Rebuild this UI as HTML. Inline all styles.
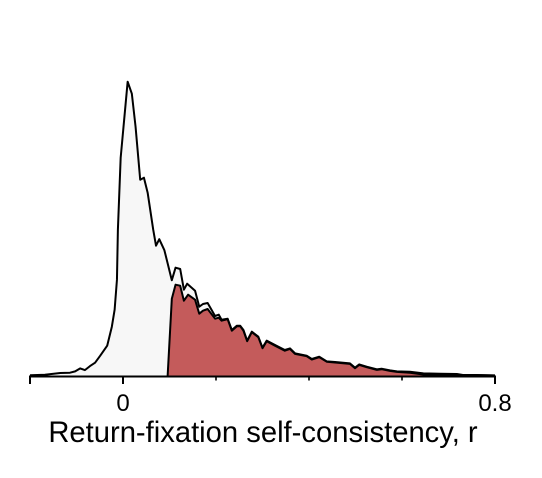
<!DOCTYPE html>
<html>
<head>
<meta charset="utf-8">
<style>
html,body{margin:0;padding:0;background:#fff;width:542px;height:478px;overflow:hidden}
svg{display:block;font-family:"Liberation Sans",Arial,sans-serif}
</style>
</head>
<body>
<svg id="chart" width="542" height="478" viewBox="0 0 542 478" xmlns="http://www.w3.org/2000/svg"></svg>
<script>
const allR = [-0.2,-0.168,-0.135,-0.114,-0.103,-0.092,-0.082,-0.071,-0.06,-0.049,-0.034,-0.024,-0.018,-0.013,-0.011,-0.005,0.010,0.019,0.027,0.037,0.045,0.053,0.065,0.071,0.078,0.089,0.097,0.105,0.113,0.123,0.131,0.138,0.155,0.164,0.172,0.182,0.198,0.206,0.212,0.225,0.234,0.245,0.252,0.259,0.267,0.277,0.291,0.300,0.309,0.327,0.348,0.359,0.370,0.395,0.406,0.422,0.438,0.456,0.488,0.499,0.508,0.524,0.546,0.556,0.574,0.589,0.617,0.646,0.682,0.718,0.731,0.761,0.8];
const allDensity = [0.005,0.01,0.027,0.03,0.043,0.073,0.056,0.096,0.13,0.20,0.30,0.49,0.66,0.96,1.46,2.18,2.94,2.82,2.49,1.96,1.98,1.83,1.46,1.30,1.365,1.255,1.105,0.955,1.08,1.067,0.86,0.92,0.85,0.69,0.717,0.727,0.597,0.61,0.56,0.57,0.457,0.50,0.50,0.457,0.35,0.44,0.39,0.28,0.35,0.307,0.257,0.273,0.223,0.20,0.167,0.19,0.143,0.137,0.123,0.08,0.113,0.09,0.063,0.07,0.053,0.043,0.04,0.023,0.02,0.017,0.007,0.007,0.003];
const selfR = [0.096,0.105,0.113,0.123,0.131,0.14,0.155,0.164,0.172,0.182,0.198,0.206,0.212,0.225,0.234,0.245,0.252,0.259,0.267,0.277,0.291,0.300,0.309,0.327,0.348,0.359,0.370,0.395,0.406,0.422,0.438,0.456,0.488,0.499,0.508,0.524,0.546,0.556,0.574,0.589,0.617,0.646,0.682,0.718,0.731,0.761,0.8];
const selfDensity = [0,0.77,0.91,0.90,0.75,0.81,0.76,0.62,0.65,0.667,0.57,0.58,0.55,0.565,0.45,0.495,0.495,0.45,0.345,0.435,0.385,0.275,0.345,0.30,0.25,0.268,0.218,0.195,0.162,0.185,0.14,0.132,0.118,0.075,0.108,0.085,0.058,0.065,0.048,0.038,0.03,0.012,0.01,0.008,0.004,0.004,0.002];
const majorTicks = [-0.2,0,0.8];
const minorTicks = [0.2,0.4,0.6];
const tickLabels = {"0":"0","0.8":"0.8"};
const xAxisTitle = "Return-fixation self-consistency, r";

const NS = "http://www.w3.org/2000/svg";
const svg = document.getElementById("chart");
const baseY = 375.7;
function xScale(r){ return 123 + r * 465; }
function yScale(d){ return baseY - d * 100; }
function make(tag, attrs, text){
  const el = document.createElementNS(NS, tag);
  for (const k in attrs) el.setAttribute(k, attrs[k]);
  if (text !== undefined) el.textContent = text;
  svg.appendChild(el);
  return el;
}
function linePath(rs, ds){
  return rs.map((r,i)=>(i?"L":"M")+xScale(r).toFixed(2)+" "+yScale(ds[i]).toFixed(2)).join(" ");
}
function areaPath(rs, ds){
  return linePath(rs, ds)+" L"+xScale(rs[rs.length-1]).toFixed(2)+" "+baseY+" L"+xScale(rs[0]).toFixed(2)+" "+baseY+" Z";
}

const allFill = make("path",{d:areaPath(allR,allDensity),fill:"#f7f7f7",stroke:"none"});


const allLine = make("path",{d:linePath(allR,allDensity),fill:"none",stroke:"#000","stroke-width":2,"stroke-linejoin":"round"});


const selfFill = make("path",{d:areaPath(selfR,selfDensity),fill:"#c45b5b",stroke:"none"});


const selfLine = make("path",{d:linePath(selfR,selfDensity),fill:"none",stroke:"#000","stroke-width":2,"stroke-linejoin":"round"});



const axisLine = make("line",{x1:xScale(-0.2)-1,x2:xScale(0.8)+1,y1:376.5,y2:376.5,stroke:"#000","stroke-width":2});



majorTicks.forEach(function(t){
  const tick = make("line",{x1:xScale(t),x2:xScale(t),y1:376,y2:384,stroke:"#000","stroke-width":2});
  
  
  const label = tickLabels[String(t)];
  if (label !== undefined){
    const txt = make("text",{x:xScale(t),y:411,"text-anchor":"middle","font-size":"24px",fill:"#000"},label);
    
    
  }
});
minorTicks.forEach(function(t){
  const tick = make("line",{x1:xScale(t),x2:xScale(t),y1:376,y2:380.5,stroke:"#000","stroke-width":1.6});
  
  
});
const title = make("text",{x:263,y:442,"text-anchor":"middle","font-size":"29.2px",fill:"#000"},xAxisTitle);


</script>
</body>
</html>
